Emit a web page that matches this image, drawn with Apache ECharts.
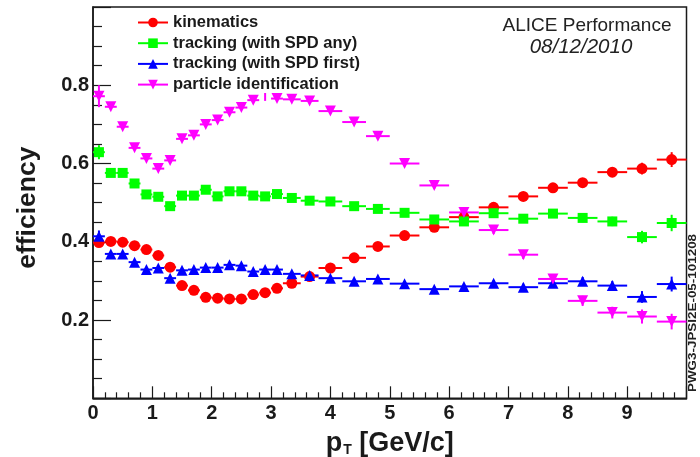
<!DOCTYPE html>
<html><head><meta charset="utf-8">
<script src="https://cdn.jsdelivr.net/npm/echarts@6/dist/echarts.min.js"></script>
<style>html,body{margin:0;padding:0;background:#fff}#chart{width:700px;height:457px}</style>
</head><body><div id="chart"></div>
<script>
// pT bin edges in GeV/c
const binEdges = [0, 0.2, 0.4, 0.6, 0.8, 1.0, 1.2, 1.4, 1.6, 1.8, 2.0, 2.2, 2.4, 2.6, 2.8, 3.0, 3.2,
  3.5, 3.8, 4.2, 4.6, 5.0, 5.5, 6.0, 6.5, 7.0, 7.5, 8.0, 8.5, 9.0, 9.5, 10.0];

const seriesNames = ['kinematics', 'tracking (with SPD any)', 'tracking (with SPD first)', 'particle identification'];

// efficiency per pT bin
const kinematics = [0.398, 0.401, 0.399, 0.390, 0.380, 0.365, 0.335, 0.288, 0.276, 0.258, 0.256, 0.254, 0.254,
  0.265, 0.270, 0.281, 0.294, 0.311, 0.333, 0.359, 0.388, 0.416, 0.437, 0.463, 0.488, 0.516, 0.538, 0.551, 0.578, 0.587, 0.610];
const trackingAny = [0.629, 0.576, 0.576, 0.549, 0.521, 0.515, 0.491, 0.518, 0.518, 0.533, 0.516, 0.529, 0.529,
  0.518, 0.516, 0.522, 0.512, 0.505, 0.503, 0.491, 0.484, 0.474, 0.457, 0.452, 0.473, 0.459, 0.472, 0.461, 0.452, 0.412, 0.448];
const trackingFirst = [0.414, 0.369, 0.369, 0.348, 0.329, 0.333, 0.307, 0.327, 0.329, 0.334, 0.334, 0.341, 0.339,
  0.324, 0.329, 0.329, 0.318, 0.314, 0.307, 0.299, 0.305, 0.293, 0.279, 0.286, 0.294, 0.284, 0.294, 0.299, 0.288, 0.259, 0.292];
const pid = [0.772, 0.745, 0.694, 0.640, 0.613, 0.587, 0.608, 0.663, 0.672, 0.700, 0.711, 0.731, 0.743,
  0.762, 0.800, 0.766, 0.764, 0.760, 0.734, 0.706, 0.670, 0.600, 0.544, 0.475, 0.430, 0.367, 0.305, 0.249, 0.219, 0.209, 0.196];

// statistical errors (half width)
const errKinematics = [0.008, 0.004, 0.004, 0.004, 0.004, 0.004, 0.004, 0.004, 0.004, 0.004, 0.004, 0.004, 0.004,
  0.004, 0.004, 0.004, 0.004, 0.004, 0.004, 0.005, 0.005, 0.006, 0.006, 0.007, 0.008, 0.009, 0.010, 0.011, 0.012, 0.015, 0.019];
const errTrackingAny = [0.018, 0.005, 0.005, 0.005, 0.005, 0.005, 0.005, 0.005, 0.005, 0.005, 0.005, 0.005, 0.005,
  0.005, 0.005, 0.005, 0.005, 0.005, 0.005, 0.005, 0.006, 0.006, 0.007, 0.008, 0.008, 0.009, 0.010, 0.011, 0.012, 0.016, 0.021];
const errTrackingFirst = [0.015, 0.005, 0.005, 0.005, 0.005, 0.005, 0.005, 0.005, 0.005, 0.005, 0.005, 0.005, 0.005,
  0.005, 0.005, 0.005, 0.005, 0.005, 0.005, 0.005, 0.006, 0.006, 0.007, 0.008, 0.008, 0.009, 0.010, 0.011, 0.012, 0.015, 0.019];
const errPid = [0.028, 0.006, 0.006, 0.006, 0.006, 0.006, 0.006, 0.006, 0.006, 0.006, 0.006, 0.006, 0.006,
  0.006, 0.040, 0.006, 0.006, 0.006, 0.006, 0.006, 0.007, 0.007, 0.008, 0.009, 0.010, 0.011, 0.011, 0.013, 0.015, 0.018, 0.020];

const xTickLabels = ['0', '1', '2', '3', '4', '5', '6', '7', '8', '9'];
const yTickLabels = ['0.2', '0.4', '0.6', '0.8'];

const FONT = '"Liberation Sans", Arial, Helvetica, sans-serif';
const INK = '#1a1a1a';

const centers = binEdges.slice(0, -1).map((lo, i) => (lo + binEdges[i + 1]) / 2);

// horizontal bin-width bars and vertical error bars
function errorBars(name, vals, errs, color) {
  return {
    type: 'custom', name: name + ' errors', silent: true, animation: false,
    data: vals.map((v, i) => [binEdges[i], binEdges[i + 1], v, errs[i]]),
    encode: { x: [0, 1], y: 2 },
    renderItem(params, api) {
      const lo = api.value(0), hi = api.value(1), y = api.value(2), e = api.value(3);
      const a = api.coord([lo, y]), b = api.coord([hi, y]);
      const c = api.coord([(lo + hi) / 2, y + e]), d = api.coord([(lo + hi) / 2, y - e]);
      return { type: 'group', children: [
        { type: 'line', shape: { x1: a[0], y1: a[1], x2: b[0], y2: b[1] }, style: { stroke: color, lineWidth: 2 } },
        { type: 'line', shape: { x1: c[0], y1: c[1], x2: d[0], y2: d[1] }, style: { stroke: color, lineWidth: 2 } }
      ] };
    }
  };
}

function markers(name, vals, color, symbol, rotate, size) {
  return {
    type: 'line', name, silent: true, animation: false,
    data: centers.map((c, i) => [c, vals[i]]),
    symbol, symbolRotate: rotate, symbolSize: size, showSymbol: true,
    lineStyle: { color, width: 2, opacity: 0 },
    itemStyle: { color, borderWidth: 0 }
  };
}

const chart = echarts.init(document.getElementById('chart'), null, { renderer: 'canvas' });
chart.setOption({
  backgroundColor: '#ffffff',
  animation: false,
  grid: {
    left: 93, right: 13.5, top: 7, bottom: 58.7, outerBoundsMode: 'none', containLabel: false,
    show: true, borderColor: INK, borderWidth: 1.5, backgroundColor: 'transparent'
  },
  xAxis: {
    type: 'value', min: 0, max: 10, interval: 1,
    axisLine: { lineStyle: { color: INK, width: 1.5 } },
    axisTick: { inside: true, length: 12, lineStyle: { color: INK, width: 1.2 } },
    minorTick: { show: true, splitNumber: 5, length: 6, lineStyle: { color: INK, width: 1.2 } },
    splitLine: { show: false },
    axisLabel: {
      margin: 5, fontFamily: FONT, fontWeight: 'bold', fontSize: 20, color: INK,
      formatter: v => (Number.isInteger(v) && v < xTickLabels.length) ? xTickLabels[v] : ''
    },
    name: '{p|p}{t|T}{p| [GeV/c]}', nameLocation: 'middle', nameGap: 31,
    nameTextStyle: {
      rich: {
        p: { fontFamily: FONT, fontWeight: 'bold', fontSize: 27, color: INK, lineHeight: 27 },
        t: { fontFamily: FONT, fontWeight: 'bold', fontSize: 14, color: INK, lineHeight: 27, verticalAlign: 'bottom', padding: [15, 0, 0, 1] }
      }
    }
  },
  yAxis: {
    type: 'value', min: 0, max: 1, interval: 0.2,
    axisLine: { lineStyle: { color: INK, width: 1.5 } },
    axisTick: { inside: true, length: 18, lineStyle: { color: INK, width: 1.2 } },
    minorTick: { show: true, splitNumber: 4, length: 9, lineStyle: { color: INK, width: 1.2 } },
    splitLine: { show: false },
    axisLabel: {
      margin: 4, fontFamily: FONT, fontWeight: 'bold', fontSize: 20, color: INK, padding: [3, 0, 0, 0],
      formatter: v => { const k = Math.round(v * 5) - 1; return (k >= 0 && k < yTickLabels.length) ? yTickLabels[k] : ''; }
    },
    name: 'efficiency', nameLocation: 'middle', nameGap: 52, nameRotate: 90,
    nameTextStyle: { fontFamily: FONT, fontWeight: 'bold', fontSize: 26.5, color: INK, padding: [0, 10, 0, 0] }
  },
  legend: {
    orient: 'vertical', left: 137, top: 10,
    padding: [4, 6, 0, 0],
    backgroundColor: '#ffffff',
    itemWidth: 30, itemHeight: 12, itemGap: 3.7,
    selectedMode: false,
    data: seriesNames,
    lineStyle: { width: 2, opacity: 1 },
    textStyle: { fontFamily: FONT, fontWeight: 'bold', fontSize: 16.5, lineHeight: 15, color: INK }
  },
  graphic: [
    { type: 'text', x: 587, y: 16, style: { text: 'ALICE Performance', font: '19px ' + FONT, fill: '#222', align: 'center', verticalAlign: 'top' } },
    { type: 'text', x: 581, y: 37.5, style: { text: '08/12/2010', font: 'italic 20.5px ' + FONT, fill: '#222', align: 'center', verticalAlign: 'top' } },
    { type: 'text', x: 693, y: 313, rotation: Math.PI / 2, scaleX: 1.22, style: { text: 'PWG3-JPSI2E-05-101208', font: 'bold 11px ' + FONT, fill: '#222', align: 'center', verticalAlign: 'middle' } }
  ],
  series: [
    errorBars(seriesNames[0], kinematics, errKinematics, '#ff0000'),
    markers(seriesNames[0], kinematics, '#ff0000', 'circle', 0, 11),
    errorBars(seriesNames[1], trackingAny, errTrackingAny, '#00ff00'),
    markers(seriesNames[1], trackingAny, '#00ff00', 'rect', 0, 10),
    errorBars(seriesNames[2], trackingFirst, errTrackingFirst, '#0000ff'),
    markers(seriesNames[2], trackingFirst, '#0000ff', 'triangle', 0, 11),
    errorBars(seriesNames[3], pid, errPid, '#ff00ff'),
    markers(seriesNames[3], pid, '#ff00ff', 'triangle', 180, 11)
  ]
});
</script>
</body></html>
